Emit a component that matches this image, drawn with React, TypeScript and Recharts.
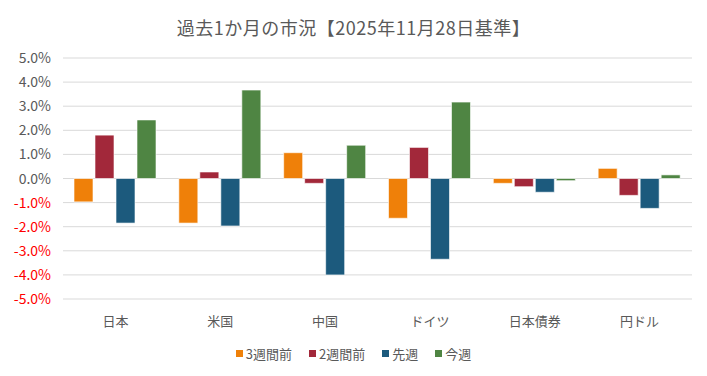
import { BarChart, Bar, XAxis, YAxis, CartesianGrid } from "recharts";

const categories = ["日本", "米国", "中国", "ドイツ", "日本債券", "円ドル"];
const seriesNames = ["3週間前", "2週間前", "先週", "今週"];
const threeWeeksAgo = [-0.97, -1.85, 1.07, -1.65, -0.2, 0.42];
const twoWeeksAgo = [1.8, 0.27, -0.2, 1.29, -0.34, -0.7];
const lastWeek = [-1.85, -1.97, -4.0, -3.35, -0.57, -1.24];
const thisWeek = [2.43, 3.67, 1.38, 3.17, -0.09, 0.15];
const yTicks = [-5, -4, -3, -2, -1, 0, 1, 2, 3, 4, 5];

const colors = ["#EF8009", "#A2283A", "#1C5A7D", "#4F8543"];
const font = '"Noto Sans CJK JP", "Noto Sans", sans-serif';

const data = categories.map((name, i) => ({
  name,
  s0: threeWeeksAgo[i],
  s1: twoWeeksAgo[i],
  s2: lastWeek[i],
  s3: thisWeek[i],
}));

function YTick({ x, y, payload }: any) {
  const v = payload.value as number;
  return (
    <text
      x={x - 4}
      y={y}
      dy={5}
      textAnchor="end"
      fontSize={14}
      fontFamily={font}
      fill={v < 0 ? "#FF0000" : "#595959"}
    >
      {v.toFixed(1)}%
    </text>
  );
}

function XTick({ x, y, payload }: any) {
  return (
    <text x={x} y={y} dy={19} textAnchor="middle" fontSize={13} fontFamily={font} fill="#595959">
      {payload.value}
    </text>
  );
}

function LegendBox() {
  return (
    <div
      style={{
        position: "absolute",
        top: 344,
        left: 0,
        width: 707,
        display: "flex",
        justifyContent: "center",
        gap: 17,
        fontFamily: font,
        fontSize: 13,
        color: "#595959",
      }}
    >
      {seriesNames.map((n, i) => (
        <div key={n} style={{ display: "flex", alignItems: "center", gap: 3 }}>
          <span style={{ width: 7, height: 7, background: colors[i], display: "inline-block" }} />
          <span>{n}</span>
        </div>
      ))}
    </div>
  );
}

export default function App() {
  return (
    <div style={{ position: "absolute", left: 0, top: 0, width: 707, height: 376, background: "#fff" }}>
      <div
        style={{
          position: "absolute",
          top: 14,
          width: 707,
          textAlign: "center",
          fontFamily: font,
          fontSize: 18,
          letterSpacing: 0.5,
          color: "#595959",
        }}
      >
        過去1か月の市況【2025年11月28日基準】
      </div>
      <BarChart
        width={707}
        height={376}
        data={data}
        margin={{ top: 58, right: 15, left: 0, bottom: 47 }}
        barCategoryGap={11}
        barGap={2}
      >
        <CartesianGrid vertical={false} stroke="#D9D9D9" strokeWidth={1} />
        <YAxis
          width={63}
          domain={[-5, 5]}
          ticks={yTicks}
          axisLine={false}
          tickLine={false}
          tick={<YTick />}
          interval={0}
        />
        <XAxis dataKey="name" axisLine={false} tickLine={false} tick={<XTick />} height={30} interval={0} />
        {["s0", "s1", "s2", "s3"].map((k, i) => (
          <Bar
            key={k}
            dataKey={k}
            name={seriesNames[i]}
            fill={colors[i]}
            stroke="#ffffff"
            strokeOpacity={0.6}
            strokeWidth={1}
            isAnimationActive={false}
          />
        ))}
      </BarChart>
      <LegendBox />
    </div>
  );
}
